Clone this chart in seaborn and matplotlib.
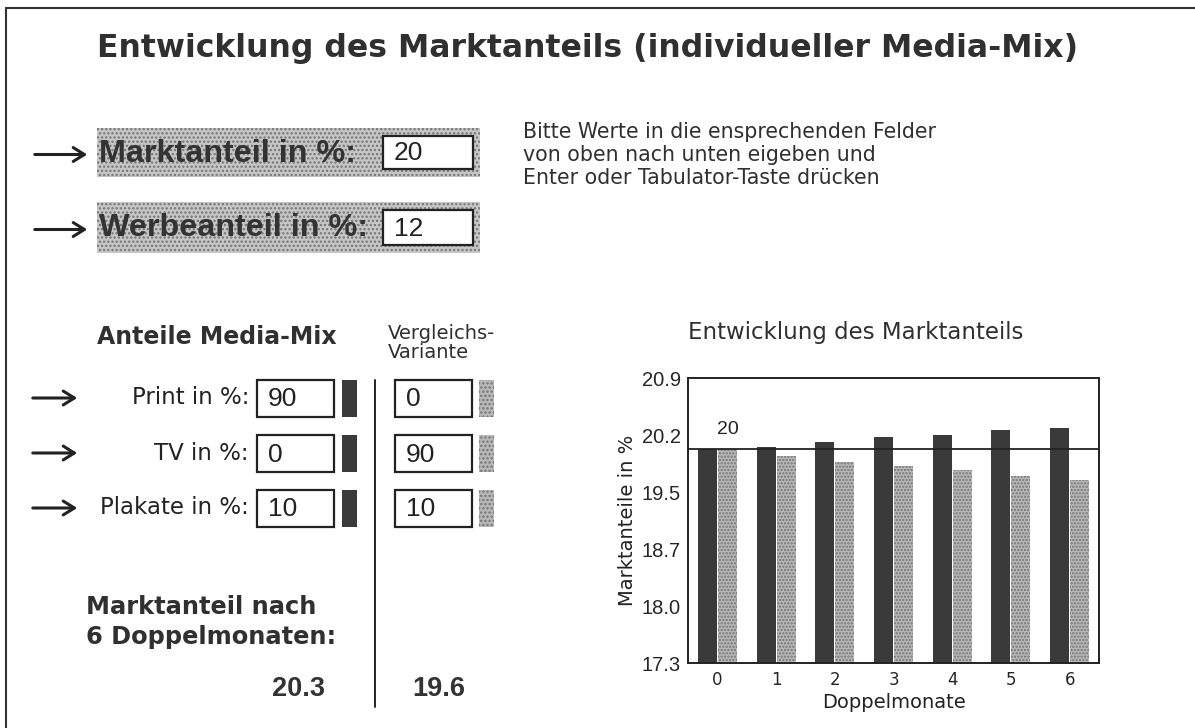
import numpy as np
import pandas as pd
import matplotlib
matplotlib.use("Agg")
import matplotlib.pyplot as plt
from matplotlib.patches import Rectangle
import seaborn as sns

# ============================================
# DATEN
# ============================================
marktanteil_start = 20
werbeanteil = 12
medien = ["Print", "TV", "Plakate"]
mix_individuell = [90, 0, 10]
mix_vergleich = [0, 90, 10]

doppelmonate = [0, 1, 2, 3, 4, 5, 6]
anteil_individuell = [20.0, 20.03, 20.09, 20.15, 20.18, 20.24, 20.27]
anteil_vergleich = [20.0, 19.91, 19.84, 19.79, 19.74, 19.66, 19.61]
y_ticks = [17.3, 18.02, 18.74, 19.46, 20.18, 20.9]

# ============================================
# STIL
# ============================================
sns.set_style("white")
plt.rcParams["font.family"] = ["DejaVu Sans"]
plt.rcParams["hatch.linewidth"] = 1.1
SCHMAL = ["Liberation Sans", "DejaVu Sans"]
DUNKEL = "#3a3a3a"
HELL = "#b8b8b8"
GRAU_PUNKTE = "#747474"
TEXT = "#303030"

W, H = 1195, 728
fig = plt.figure(figsize=(W / 100, H / 100), dpi=100)

# Hintergrund-Achse in Pixelkoordinaten für die Bedienelemente
bg = fig.add_axes([0, 0, 1, 1])
bg.set_xlim(0, W)
bg.set_ylim(H, 0)
bg.axis("off")

# Rahmen links und oben
bg.plot([6, 6], [H, 8], color="#333", lw=1.5)
bg.plot([6, W], [8, 8], color="#333", lw=1.5)

bg.text(97, 48, "Entwicklung des Marktanteils (individueller Media-Mix)",
        fontsize=22.7, fontweight="bold", color=TEXT, va="center")


def pfeil(y, x0=32, x1=90):
    bg.annotate("", xy=(x1, y), xytext=(x0, y),
                arrowprops=dict(arrowstyle="->,head_length=0.8,head_width=0.5",
                                lw=2.2, color="#222"))


def eingabefeld(x, y, w, h, wert, size=19):
    bg.add_patch(Rectangle((x, y), w, h, facecolor="white", edgecolor="#222", lw=1.6))
    bg.text(x + 11, y + h / 2 + 1, str(wert), family=SCHMAL, fontsize=size,
            color="#222", va="center", ha="left")


# Marktanteil / Werbeanteil
for (y0, y1, label, wert) in [(128, 177, "Marktanteil in %:", marktanteil_start),
                              (202, 253, "Werbeanteil in %:", werbeanteil)]:
    bg.add_patch(Rectangle((97, y0), 383, y1 - y0, facecolor="#c6c6c6",
                           edgecolor=GRAU_PUNKTE, hatch="....", lw=0))
    bg.text(99, (y0 + y1) / 2 + 1, label, fontsize=23.3, fontweight="bold",
            color="#333", va="center", family=SCHMAL)
    eingabefeld(383, y0 + 8, 90, y1 - y0 - 16, wert)
    pfeil((y0 + y1) / 2 + 2)

bg.text(523, 155, "Bitte Werte in die ensprechenden Felder\n"
        "von oben nach unten eigeben und\nEnter oder Tabulator-Taste drücken",
        fontsize=14.8, color=TEXT, va="center", linespacing=1.2)

# Media-Mix
bg.text(97, 337, "Anteile Media-Mix", fontsize=17, fontweight="bold",
        color=TEXT, va="center")
bg.text(388, 343, "Vergleichs-\nVariante", fontsize=14, color=TEXT,
        va="center", linespacing=1.0)

zeilen_y = [398, 453, 508]
for med, wi, wv, yc in zip(medien, mix_individuell, mix_vergleich, zeilen_y):
    pfeil(yc, 30, 80)
    bg.text(249, yc, f"{med} in %:", fontsize=16.5, color="#222", ha="right", va="center")
    eingabefeld(257, yc - 18, 77, 37, wi)
    bg.add_patch(Rectangle((342, yc - 18), 15, 37, facecolor=DUNKEL, lw=0))
    eingabefeld(395, yc - 18, 77, 37, wv)
    bg.add_patch(Rectangle((479, yc - 18), 15, 37, facecolor=HELL,
                           edgecolor=GRAU_PUNKTE, hatch="....", lw=0))

bg.plot([375, 375], [380, 707], color="#222", lw=1.4)

bg.text(86, 622, "Marktanteil nach\n6 Doppelmonaten:", fontsize=17.4,
        fontweight="bold", color=TEXT, va="center", linespacing=1.32)
bg.text(325, 689, f"{anteil_individuell[-1]:.1f}", family=SCHMAL, fontsize=19.5,
        fontweight="bold", color="#333", ha="right", va="center")
bg.text(412, 689, f"{anteil_vergleich[-1]:.1f}", family=SCHMAL, fontsize=19.5,
        fontweight="bold", color="#333", ha="left", va="center")

# ============================================
# BALKENDIAGRAMM
# ============================================
df = pd.DataFrame({
    "Doppelmonate": doppelmonate * 2,
    "Marktanteil": anteil_individuell + anteil_vergleich,
    "Variante": ["individuell"] * len(doppelmonate) + ["Vergleich"] * len(doppelmonate),
})

ax = fig.add_axes([688 / W, 1 - 663 / H, (1099 - 688) / W, (663 - 378) / H])
sns.barplot(data=df, x="Doppelmonate", y="Marktanteil", hue="Variante",
            palette=[DUNKEL, HELL], width=0.68, gap=0.05, legend=False,
            saturation=1, ax=ax)
for p in ax.containers[1]:
    p.set_hatch(".....")
    p.set_edgecolor(GRAU_PUNKTE)
    p.set_linewidth(0)
for p in ax.containers[0]:
    p.set_linewidth(0)

ax.set_ylim(y_ticks[0], y_ticks[-1])
ax.set_xlim(-0.5, len(doppelmonate) - 0.5)
ax.axhline(marktanteil_start, color="#222", lw=1.3)

ax.set_yticks(y_ticks)
ax.set_yticklabels([f"{v:.1f}" for v in y_ticks], family=SCHMAL, fontsize=14.5)
ax.set_xticks(np.arange(-0.5, len(doppelmonate), 1.0))
ax.set_xticklabels([])
ax.set_xticks(range(len(doppelmonate)), minor=True)
ax.set_xticklabels([str(d) for d in doppelmonate], minor=True, fontsize=12)
ax.tick_params(axis="x", which="major", direction="out", length=6, width=1.3, color="#222")
ax.tick_params(axis="x", which="minor", length=0, pad=6)
ax.tick_params(axis="y", direction="out", length=4, width=1.3, color="#222", pad=1)

ax.set_xlabel("Doppelmonate", fontsize=14, labelpad=3, color="#222")
ax.set_ylabel("Marktanteile in %", fontsize=14, color="#222")
ax.yaxis.set_label_coords((637 - 688) / 411, 0.5)
for s in ax.spines.values():
    s.set_color("#222")
    s.set_linewidth(1.4)

ax.annotate(f"{anteil_individuell[0]:.0f}", xy=(0.18, anteil_vergleich[0]),
            xytext=(0, 8), textcoords="offset points", ha="center", va="bottom",
            family=SCHMAL, fontsize=14, color="#222")

bg.text(688, 333, "Entwicklung des Marktanteils", fontsize=16.5, color=TEXT, va="center")

fig.savefig("out.png", dpi=100)
